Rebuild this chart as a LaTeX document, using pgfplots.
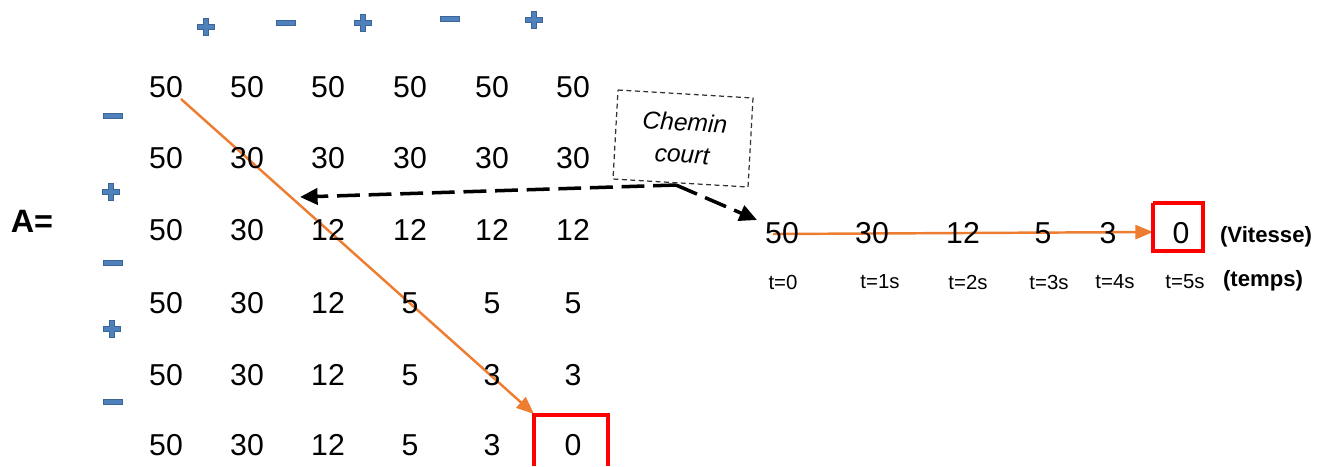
\documentclass[border=0pt]{standalone}
\usepackage{fontspec}
\setmainfont{Liberation Sans}
\usepackage{pgfplots}
\usepackage{pgfplotstable}
\pgfplotsset{compat=1.18}
\usetikzlibrary{arrows.meta}
\definecolor{sgnfill}{HTML}{4F81BD}
\definecolor{sgnedge}{HTML}{3A6595}
\definecolor{orng}{HTML}{ED7D31}
\pgfdeclareplotmark{bplus}{%
 \pgfpathmoveto{\pgfqpoint{-0.75pt}{-2.3pt}}%
 \pgfpathlineto{\pgfqpoint{0.75pt}{-2.3pt}}%
 \pgfpathlineto{\pgfqpoint{0.75pt}{-0.75pt}}%
 \pgfpathlineto{\pgfqpoint{2.3pt}{-0.75pt}}%
 \pgfpathlineto{\pgfqpoint{2.3pt}{0.75pt}}%
 \pgfpathlineto{\pgfqpoint{0.75pt}{0.75pt}}%
 \pgfpathlineto{\pgfqpoint{0.75pt}{2.3pt}}%
 \pgfpathlineto{\pgfqpoint{-0.75pt}{2.3pt}}%
 \pgfpathlineto{\pgfqpoint{-0.75pt}{0.75pt}}%
 \pgfpathlineto{\pgfqpoint{-2.3pt}{0.75pt}}%
 \pgfpathlineto{\pgfqpoint{-2.3pt}{-0.75pt}}%
 \pgfpathlineto{\pgfqpoint{-0.75pt}{-0.75pt}}%
 \pgfpathclose
 \pgfusepathqfillstroke}
\pgfdeclareplotmark{bminus}{%
 \pgfpathrectangle{\pgfqpoint{-2.6pt}{-0.75pt}}{\pgfqpoint{5.2pt}{1.5pt}}%
 \pgfusepathqfillstroke}

\pgfplotstableread{
x y v
166 87 50
247 87 50
328 87 50
410 87 50
492 87 50
573 87 50
166 158 50
247 158 30
328 158 30
410 158 30
492 158 30
573 158 30
166 230 50
247 230 30
328 230 12
410 230 12
492 230 12
573 230 12
166 303 50
247 303 30
328 303 12
410 303 5
492 303 5
573 303 5
166 375 50
247 375 30
328 375 12
410 375 5
492 375 3
573 375 3
166 445 50
247 445 30
328 445 12
410 445 5
492 445 3
573 445 0
}\matrixdata

\pgfplotstableread{
x y v
782 233 50
872 233 30
963 233 12
1043 233 5
1108 233 3
1181 233 0
}\seqdata

\pgfplotstableread{
x y
206 27
363 23
534 20
111 192
112 329
}\plusdata

\pgfplotstableread{
x y
286 23
450 19
113 116
113 263
113 402
}\minusdata

\begin{document}
\begin{tikzpicture}
\begin{axis}[
  width=13.26cm, height=4.66cm, scale only axis,
  xmin=0, xmax=1326, ymin=0, ymax=466, y dir=reverse,
  axis lines=none, clip=false,
  every node near coord/.style={anchor=center, inner sep=0pt, text=black},
]
% invisible frame
\addplot[draw=none, forget plot] coordinates {(0,0) (1326,466)};

% shortest path arrows
\addplot[orng, line width=0.7pt, -{Triangle[length=5pt,width=4pt]}] coordinates {(181,99) (534,414)};
\addplot[orng, line width=0.7pt, -{Triangle[length=5pt,width=4pt]}] coordinates {(773,234) (1153,232)};

% matrix values
\addplot[draw=none, mark=none, nodes near coords, point meta=explicit symbolic,
  nodes near coords style={font=\fontsize{8.6}{10}\selectfont}]
  table[x=x, y=y, meta=v] {\matrixdata};
% sequence values
\addplot[draw=none, mark=none, nodes near coords, point meta=explicit symbolic,
  nodes near coords style={font=\fontsize{8.6}{10}\selectfont}]
  table[x=x, y=y, meta=v] {\seqdata};

% signs
\addplot[only marks, mark=bplus, mark options={fill=sgnfill, draw=sgnedge, line width=0.3pt}]
  table[x=x, y=y] {\plusdata};
\addplot[only marks, mark=bminus, mark options={fill=sgnfill, draw=sgnedge, line width=0.3pt}]
  table[x=x, y=y] {\minusdata};

% red boxes
\addplot[red, line width=0.9pt] coordinates {(534,466) (534,415) (608,415) (608,466)};
\addplot[red, line width=0.9pt] coordinates {(1153,203) (1203,203) (1203,251) (1153,251) (1153,203)};

% Chemin court box
\addplot[black!80, line width=0.35pt, dash pattern=on 1.4pt off 1pt] coordinates {(618,90) (753,98) (748,187) (613,179) (618,90)};

% dashed arrows
\addplot[black, line width=1pt, dash pattern=on 6.5pt off 2.5pt, -{Triangle[length=5pt,width=4.6pt]}] coordinates {(676,185) (300,197)};
\addplot[black, line width=1pt, dash pattern=on 6.5pt off 2.5pt, -{Triangle[length=5pt,width=4.6pt]}] coordinates {(676,185) (757,220)};

% texts
\node[font=\fontsize{9.2}{11}\selectfont\bfseries] at (axis cs:32,221) {A=};
\node[font=\fontsize{7}{8}\selectfont\itshape, rotate=-3.4] at (axis cs:685,122) {Chemin};
\node[font=\fontsize{7}{8}\selectfont\itshape, rotate=-3.4] at (axis cs:682,155) {court};
\node[font=\fontsize{6.3}{7}\selectfont\bfseries] at (axis cs:1266,237) {(Vitesse)};
\node[font=\fontsize{6.3}{7}\selectfont\bfseries] at (axis cs:1263,281) {(temps)};
\node[font=\fontsize{5.8}{7}\selectfont] at (axis cs:783,282) {t=0};
\node[font=\fontsize{5.8}{7}\selectfont] at (axis cs:880,282) {t=1s};
\node[font=\fontsize{5.8}{7}\selectfont] at (axis cs:968,282) {t=2s};
\node[font=\fontsize{5.8}{7}\selectfont] at (axis cs:1049,282) {t=3s};
\node[font=\fontsize{5.8}{7}\selectfont] at (axis cs:1115,282) {t=4s};
\node[font=\fontsize{5.8}{7}\selectfont] at (axis cs:1185,282) {t=5s};
\end{axis}
\pgfresetboundingbox
\useasboundingbox (current axis.south west) rectangle (current axis.north east);
\end{tikzpicture}
\end{document}
